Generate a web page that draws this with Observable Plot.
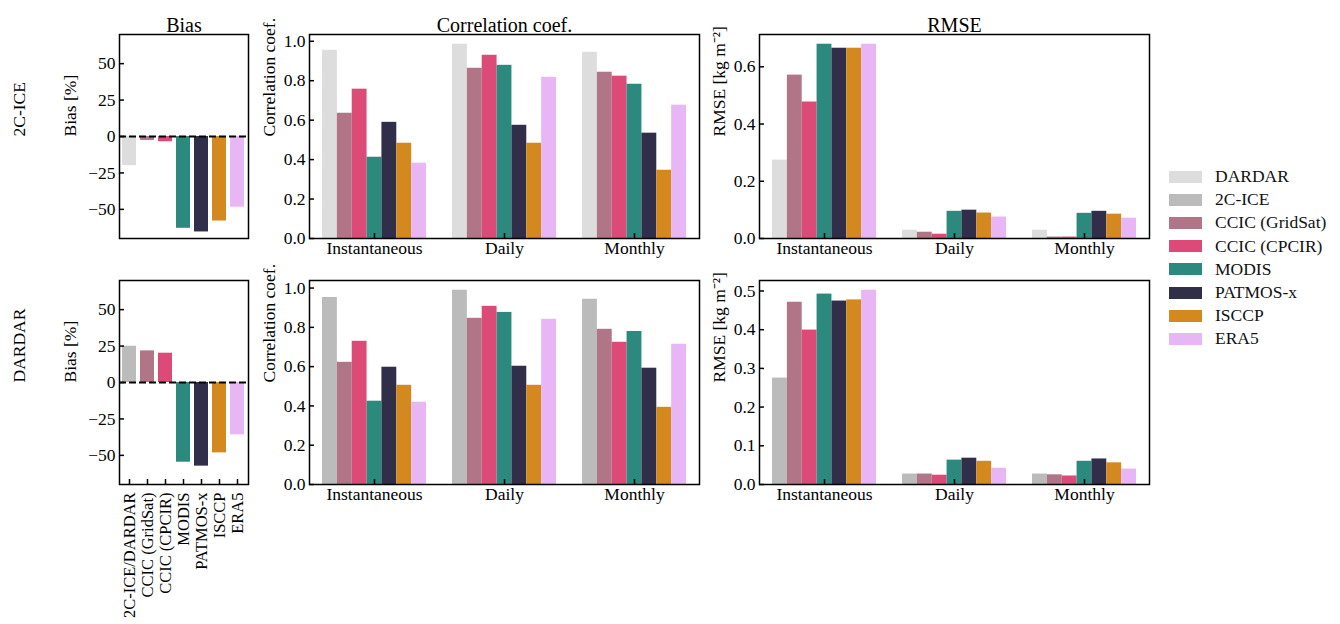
<!DOCTYPE html>
<html>
<head>
<meta charset="utf-8">
<script src="https://cdn.jsdelivr.net/npm/d3@7"></script>
<script src="https://cdn.jsdelivr.net/npm/@observablehq/plot@0.6"></script>
<style>
  html, body { margin: 0; padding: 0; background: white; }
  #root { position: relative; width: 1340px; height: 624px; overflow: hidden; font-family: "Liberation Serif", serif; }
  .legend { position: absolute; left: 1169px; top: 165px; font-size: 17.5px; color: #111; }
  .legend .row { height: 23.2px; display: flex; align-items: center; }
  .legend .sw { width: 33px; height: 12px; margin-right: 13px; }
</style>
</head>
<body>
<div id="root"></div>
<script>
// ---- data ----
const models = ["DARDAR", "2C-ICE", "CCIC (GridSat)", "CCIC (CPCIR)", "MODIS", "PATMOS-x", "ISCCP", "ERA5"];
const modelColors = ["#dddddd", "#bbbbbb", "#b07586", "#dc4a78", "#2b897e", "#312e49", "#d4891f", "#e8b6f4"];
const timescales = ["Instantaneous", "Daily", "Monthly"];
const biasCategories = ["2C-ICE/DARDAR", "CCIC (GridSat)", "CCIC (CPCIR)", "MODIS", "PATMOS-x", "ISCCP", "ERA5"];

// products compared against the 2C-ICE reference (row 1) and against DARDAR (row 2)
const products2cice = ["DARDAR", "CCIC (GridSat)", "CCIC (CPCIR)", "MODIS", "PATMOS-x", "ISCCP", "ERA5"];
const productsDardar = ["2C-ICE", "CCIC (GridSat)", "CCIC (CPCIR)", "MODIS", "PATMOS-x", "ISCCP", "ERA5"];

const bias2cice = [-20, -2.7, -3.6, -63, -65.5, -58, -48.5];
const biasDardar = [24.9, 21.7, 20.1, -54.7, -57.4, -48.3, -35.9];

const corr2ciceInst = [0.954, 0.635, 0.757, 0.412, 0.589, 0.483, 0.382];
const corr2ciceDaily = [0.985, 0.863, 0.929, 0.878, 0.574, 0.483, 0.817];
const corr2ciceMonthly = [0.944, 0.843, 0.823, 0.782, 0.534, 0.346, 0.676];
const corrDardarInst = [0.952, 0.622, 0.729, 0.424, 0.597, 0.505, 0.419];
const corrDardarDaily = [0.989, 0.846, 0.907, 0.876, 0.602, 0.505, 0.841];
const corrDardarMonthly = [0.943, 0.790, 0.724, 0.779, 0.592, 0.393, 0.714];

const rmse2ciceInst = [0.274, 0.571, 0.477, 0.679, 0.665, 0.665, 0.679];
const rmse2ciceDaily = [0.029, 0.022, 0.015, 0.095, 0.099, 0.089, 0.075];
const rmse2ciceMonthly = [0.029, 0.005, 0.005, 0.088, 0.095, 0.085, 0.071];
const rmseDardarInst = [0.275, 0.471, 0.399, 0.492, 0.474, 0.477, 0.502];
const rmseDardarDaily = [0.027, 0.027, 0.024, 0.063, 0.068, 0.060, 0.042];
const rmseDardarMonthly = [0.027, 0.025, 0.022, 0.060, 0.066, 0.056, 0.040];

const corrTicks = [0, 0.2, 0.4, 0.6, 0.8, 1.0];
const rmseTicks2cice = [0, 0.2, 0.4, 0.6];
const rmseTicksDardar = [0, 0.1, 0.2, 0.3, 0.4, 0.5];
const biasTicks = [-50, -25, 0, 25, 50];

// ---- layout / style ----
const FONT = "Liberation Serif";
const root = document.getElementById("root");
const colorScale = {domain: models, range: modelColors};
const baseStyle = {fontFamily: FONT, fontSize: "17.5px", color: "black", background: "none", overflow: "visible"};

function place(svg, left, top) {
  svg.style.position = "absolute";
  svg.style.left = left + "px";
  svg.style.top = top + "px";
  svg.style.maxWidth = "none";
  root.append(svg);
}

function groupedRows(products, series) {
  const rows = [];
  series.forEach((vals, gi) => {
    vals.forEach((v, k) => rows.push({gi, k, product: products[k], value: v}));
  });
  return rows;
}

const W = 0.8 / 7;

function groupedPanel({products, series, ticks, label, title, left, top, mTop, mBottom, height}) {
  const rows = groupedRows(products, series);
  const ymax = d3.max(rows, d => d.value) * 1.05;
  const marks = [
    Plot.rect(rows, {x1: d => d.gi - 0.4 + d.k * W, x2: d => d.gi - 0.4 + (d.k + 1) * W, y1: 0, y2: "value", fill: "product"}),
    Plot.axisY({ticks, tickSize: 0, tickPadding: 4, tickFormat: ".1f", label: null}),
    Plot.axisY({ticks, tickSize: 5, dx: 5, tickFormat: () => "", label: null, strokeWidth: 1.5}),
    Plot.axisX({ticks: [0, 1, 2], tickSize: 0, tickPadding: 3, tickFormat: i => timescales[i], label: null}),
    Plot.axisX({ticks: [0, 1, 2], tickSize: 5, dy: -5, tickFormat: () => "", label: null, strokeWidth: 1.5}),
    Plot.frame({stroke: "black", strokeWidth: 1.5}),
    Plot.text([label], {frameAnchor: "left", dx: -40, rotate: -90, text: d => d})
  ];
  if (title) marks.push(Plot.text([title], {frameAnchor: "top", dy: -17, text: d => d, fontSize: 20}));
  const svg = Plot.plot({
    width: 57 + 390 + 6, height,
    marginLeft: 57, marginRight: 6, marginTop: mTop, marginBottom: mBottom,
    style: baseStyle,
    x: {type: "linear", domain: [-0.5, 2.5], axis: null},
    y: {domain: [0, ymax], axis: null},
    color: colorScale,
    marks
  });
  place(svg, left, top);
}

function biasPanel({products, values, rowLabel, title, showX, top, mTop, mBottom, height}) {
  const rows = values.map((v, k) => ({cat: biasCategories[k], product: products[k], value: v}));
  const marks = [
    Plot.barY(rows, {x: "cat", y1: 0, y2: "value", fill: "product"}),
    Plot.ruleY([0], {stroke: "black", strokeWidth: 2, strokeDasharray: "7,3"}),
    Plot.axisY({ticks: biasTicks, tickSize: 0, tickPadding: 4, label: null}),
    Plot.axisY({ticks: biasTicks, tickSize: 5, dx: 5, tickFormat: () => "", label: null, strokeWidth: 1.5}),
    Plot.frame({stroke: "black", strokeWidth: 1.5}),
    Plot.text(["Bias [%]"], {frameAnchor: "left", dx: -49, rotate: -90, text: d => d}),
    Plot.text([rowLabel], {frameAnchor: "left", dx: -100, rotate: -90, text: d => d})
  ];
  if (showX) {
    marks.push(Plot.axisX({tickSize: 0, tickPadding: 8, tickRotate: -90, label: null, fontSize: 16.5}));
    marks.push(Plot.axisX({tickSize: 5, dy: -5, tickFormat: () => "", label: null, strokeWidth: 1.5}));
  }
  if (title) marks.push(Plot.text([title], {frameAnchor: "top", dy: -17, text: d => d, fontSize: 20}));
  const svg = Plot.plot({
    width: 119 + 129 + 6, height,
    marginLeft: 119, marginRight: 6, marginTop: mTop, marginBottom: mBottom,
    style: baseStyle,
    x: {type: "band", domain: biasCategories, paddingInner: 0.2, paddingOuter: 0.1, axis: null},
    y: {domain: [-70, 70], axis: null},
    color: colorScale,
    marks
  });
  place(svg, 0, top);
}

// Row 1: reference 2C-ICE
biasPanel({products: products2cice, values: bias2cice, rowLabel: "2C-ICE", title: "Bias", showX: false,
  top: 0, mTop: 34, mBottom: 10, height: 248});
groupedPanel({products: products2cice, series: [corr2ciceInst, corr2ciceDaily, corr2ciceMonthly], ticks: corrTicks,
  label: "Correlation coef.", title: "Correlation coef.", left: 252, top: 0, mTop: 34, mBottom: 26, height: 264});
groupedPanel({products: products2cice, series: [rmse2ciceInst, rmse2ciceDaily, rmse2ciceMonthly], ticks: rmseTicks2cice,
  label: "RMSE [kg m\u207B\u00B2]", title: "RMSE", left: 702, top: 0, mTop: 34, mBottom: 26, height: 264});

// Row 2: reference DARDAR
biasPanel({products: productsDardar, values: biasDardar, rowLabel: "DARDAR", title: null, showX: true,
  top: 250, mTop: 30, mBottom: 140, height: 374});
groupedPanel({products: productsDardar, series: [corrDardarInst, corrDardarDaily, corrDardarMonthly], ticks: corrTicks,
  label: "Correlation coef.", title: null, left: 252, top: 264, mTop: 16, mBottom: 26, height: 246});
groupedPanel({products: productsDardar, series: [rmseDardarInst, rmseDardarDaily, rmseDardarMonthly], ticks: rmseTicksDardar,
  label: "RMSE [kg m\u207B\u00B2]", title: null, left: 702, top: 264, mTop: 16, mBottom: 26, height: 246});

// Legend
const legend = document.createElement("div");
legend.className = "legend";
models.forEach((m, i) => {
  const row = document.createElement("div");
  row.className = "row";
  const sw = document.createElement("div");
  sw.className = "sw";
  sw.style.background = modelColors[i];
  const lab = document.createElement("span");
  lab.textContent = m;
  row.append(sw, lab);
  legend.append(row);
});
root.append(legend);
</script>
</body>
</html>
